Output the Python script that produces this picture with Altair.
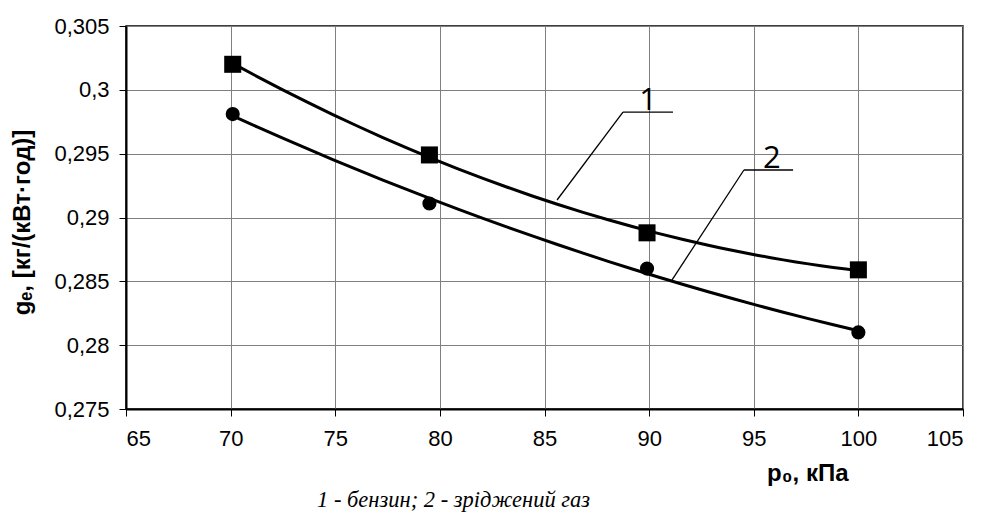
import altair as alt
import pandas as pd

# --- data ---
pressure = [70.1, 79.5, 89.9, 100.0]
ge_petrol = [0.3020, 0.2949, 0.2888, 0.2859]   # 1 - бензин (squares)
ge_lpg = [0.2981, 0.2911, 0.2860, 0.2810]      # 2 - зріджений газ (circles)

# leader lines for curve labels (data coordinates)
leader_x = [85.60, 88.75, 91.09, 94.53]
leader_y = [0.29137, 0.29826, 0.28510, 0.29372]
leader_x2 = [88.75, 91.14, 94.53, 96.88]
leader_y2 = [0.29826, 0.29826, 0.29372, 0.29372]
label_text = ["1", "2"]
label_x = [89.95, 95.87]
label_y = [0.29842, 0.29388]

df = pd.DataFrame({
    "p": pressure * 2,
    "g": ge_petrol + ge_lpg,
    "series": ["1"] * len(pressure) + ["2"] * len(pressure),
})
lead = pd.DataFrame({"x": leader_x, "y": leader_y, "x2": leader_x2, "y2": leader_y2})
labs = pd.DataFrame({"x": label_x, "y": label_y, "t": label_text})

xs = alt.Scale(domain=[65, 105], nice=False, zero=False)
ys = alt.Scale(domain=[0.275, 0.305], nice=False, zero=False)

xaxis = alt.Axis(
    values=[65, 70, 75, 80, 85, 90, 95, 100, 105],
    title="p₀, кПа", titleFontSize=24, titleFontWeight="bold",
    titleFont="Liberation Sans", titleColor="black",
    titleX=722, titleY=64, titleAlign="right", titleBaseline="middle",
    labelPadding=12,
)
yaxis = alt.Axis(
    values=[0.275, 0.28, 0.285, 0.29, 0.295, 0.3, 0.305],
    labelExpr="replace(format(datum.value, '.3~f'), '.', ',')",
    title="gₑ, [кг/(кВт·год)]", titleFontSize=24, titleFontWeight="bold",
    titleFont="Liberation Sans", titleColor="black",
    titleX=-104, titleY=196, titleAlign="center", titleBaseline="middle", titleAngle=-90,
    labelPadding=10,
)

base = alt.Chart(df)

trend = base.transform_regression(
    "p", "g", method="poly", order=2, groupby=["series"]
).mark_line(color="black", strokeWidth=3).encode(
    x=alt.X("p:Q", scale=xs, axis=xaxis),
    y=alt.Y("g:Q", scale=ys, axis=yaxis),
    detail="series:N",
)

squares = base.transform_filter("datum.series == '1'").mark_point(
    shape="square", filled=True, color="black", size=290, opacity=1
).encode(x=alt.X("p:Q", scale=xs), y=alt.Y("g:Q", scale=ys))

circles = base.transform_filter("datum.series == '2'").mark_point(
    shape="circle", filled=True, color="black", size=200, opacity=1
).encode(x=alt.X("p:Q", scale=xs), y=alt.Y("g:Q", scale=ys))

leaders = alt.Chart(lead).mark_rule(color="black", strokeWidth=1.3).encode(
    x=alt.X("x:Q", scale=xs), y=alt.Y("y:Q", scale=ys),
    x2="x2:Q", y2="y2:Q",
)

labels = alt.Chart(labs).mark_text(
    font="Open Sans", fontSize=31, color="black", baseline="alphabetic", align="center"
).encode(x=alt.X("x:Q", scale=xs), y=alt.Y("y:Q", scale=ys), text="t:N")

chart = alt.layer(trend, squares, circles, leaders, labels).properties(
    width=837,
    height=383,
    autosize=alt.AutoSizeParams(type="none"),
    padding={"left": 118, "top": 18, "right": 13, "bottom": 108},
    title=alt.TitleParams(
        text="1 - бензин; 2 - зріджений газ",
        orient="bottom", anchor="start", dx=307, offset=4,
        font="Liberation Serif", fontSize=22.5, fontStyle="italic",
        fontWeight="normal", color="black",
    ),
).configure_view(
    stroke="black", strokeWidth=1.5
).configure_axis(
    grid=True, gridColor="#7f7f7f", gridWidth=1, gridOpacity=1,
    domainColor="black", domainWidth=2,
    tickColor="black", tickSize=7, tickWidth=1,
    labelFont="Liberation Sans", labelFontSize=22, labelColor="black",
)

chart.save("out.html", embed_options={"renderer": "svg", "actions": False})
